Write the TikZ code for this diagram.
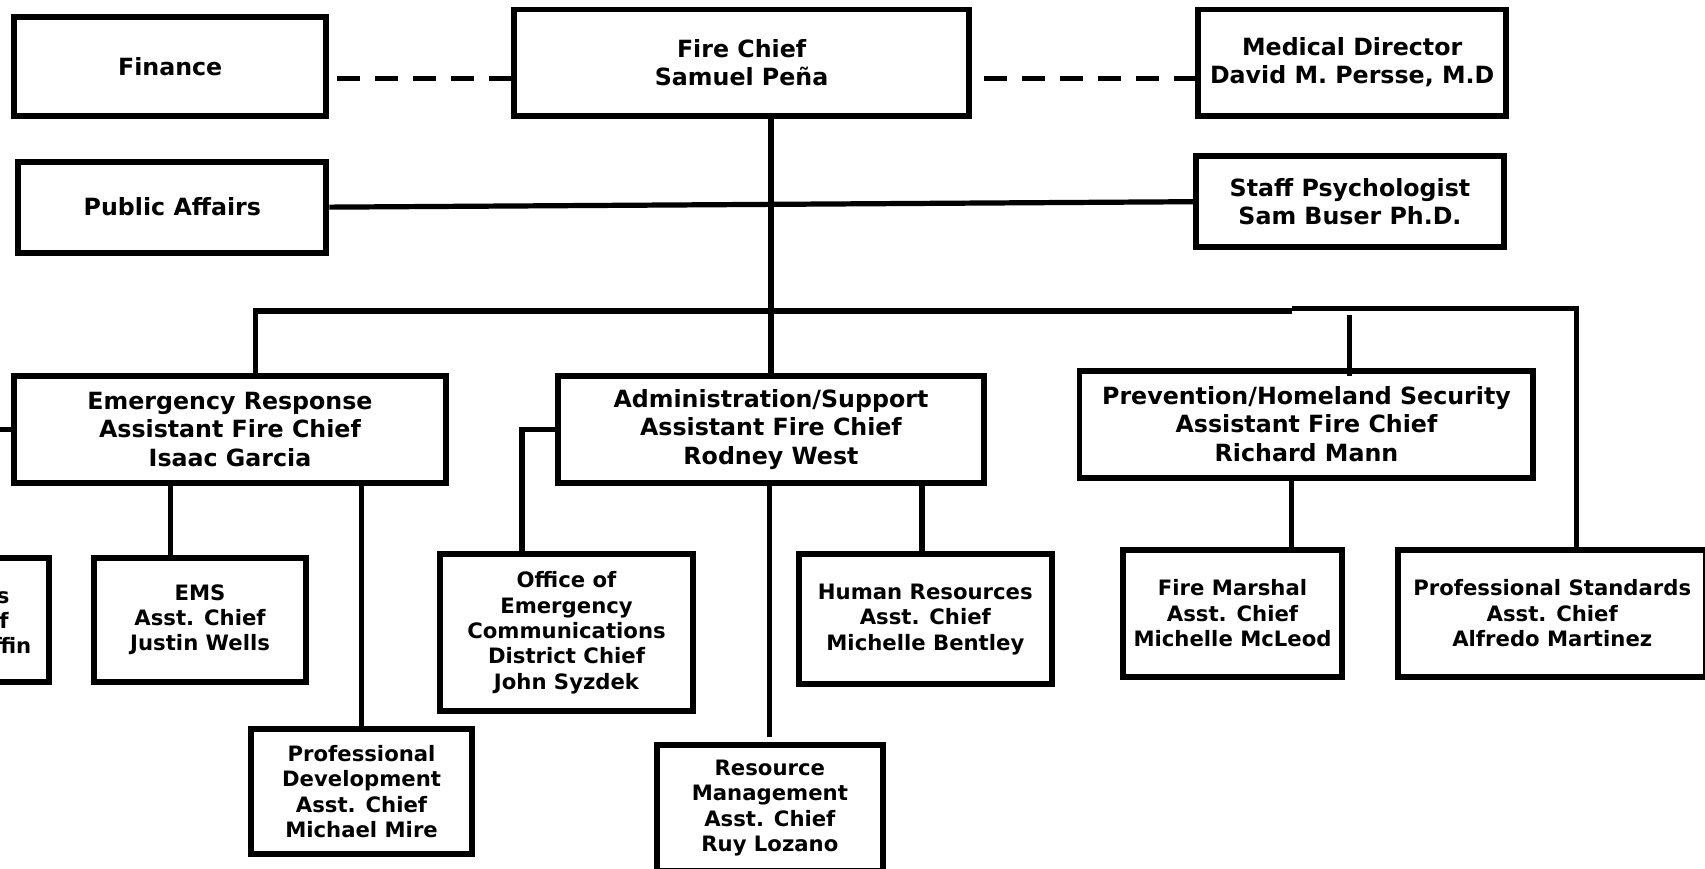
\documentclass[tikz,border=0pt]{standalone}
\usepackage{fontspec}
\setmainfont{DejaVu Sans}

\begin{document}
\begin{tikzpicture}[x = 1pt, y = -1pt, line join = miter,
	every node/.style = {text = black},
	chiefbox/.style = {draw, line width = 5.5pt, align = center, inner sep = 0pt,
		font = \fontsize{21.8}{26}\selectfont\bfseries},
	unitbox/.style = {draw, line width = 5.5pt, align = center, inner sep = 0pt,
		font = \fontsize{19.5}{23.3}\selectfont\bfseries},
	unittext/.style = {inner sep = 0pt, font = \fontsize{19.5}{23.3}\selectfont\bfseries},
	link/.style = {line width = 4.8pt},
	dashlink/.style = {line width = 5pt, dash pattern = on 21pt off 14pt}]

	% Page

	\fill [white] (0, 0) rectangle (1568, 799);
	\clip (0, 0) rectangle (1568, 799);

	% Top row

	\node [chiefbox, minimum width = 287.5, minimum height = 90.5] (fin) at (156.5, 61) {Finance};
	\node [chiefbox, minimum width = 418.5, minimum height = 97.5] (chief) at (682, 57.5) {Fire Chief\\Samuel Peña};
	\node [chiefbox, minimum width = 283.5, minimum height = 97.5] (med) at (1243.5, 57.5) {Medical Director\\David M. Persse, M.D};
	\node [chiefbox, minimum width = 283.5, minimum height = 83.5] (pa) at (158.5, 190.5) {Public Affairs};
	\node [chiefbox, minimum width = 283.5, minimum height = 83.5] (sp) at (1241.5, 185.5) {Staff Psychologist\\Sam Buser Ph.D.};

	% Assistant fire chiefs

	\node [chiefbox, minimum width = 397.5, minimum height = 98.5] (emr) at (211.5, 395) {Emergency Response\\Assistant Fire Chief\\Isaac Garcia};
	\node [chiefbox, minimum width = 392.5, minimum height = 98.5] (adm) at (709, 395) {Administration/Support\\Assistant Fire Chief\\Rodney West};
	\node [chiefbox, minimum width = 417.5, minimum height = 98.5] (prev) at (1201.5, 390) {Prevention/Homeland Security\\Assistant Fire Chief\\Richard Mann};

	% Divisions

	\node [unitbox, minimum width = 238.5, minimum height = 114.5] (ops) at (-74, 570) {};
	\node [unittext, anchor = base east] (opsA) at (9, 555) {s};
	\node [unittext, anchor = base east] (opsB) at (8, 578) {f};
	\node [unittext, anchor = base east] (opsC) at (29, 601) {ffin};
	\node [unitbox, minimum width = 194.5, minimum height = 114.5] (ems) at (184, 570) {EMS\\Asst. Chief\\Justin Wells};
	\node [unitbox, minimum width = 203.5, minimum height = 114.5] (pdv) at (332.5, 728) {Professional\\Development\\Asst. Chief\\Michael Mire};
	\node [unitbox, minimum width = 232.5, minimum height = 144.5] (oec) at (521, 582) {Office of\\Emergency\\Communications\\District Chief\\John Syzdek};
	\node [unitbox, minimum width = 232.5, minimum height = 119.5] (hr) at (851, 569.5) {Human Resources\\Asst. Chief\\Michelle Bentley};
	\node [unitbox, minimum width = 208.5, minimum height = 116.5] (rm) at (708, 743) {Resource\\Management\\Asst. Chief\\Ruy Lozano};
	\node [unitbox, minimum width = 201.5, minimum height = 116.5] (fm) at (1133.5, 564) {Fire Marshal\\Asst. Chief\\Michelle McLeod};
	\node [unitbox, minimum width = 283.5, minimum height = 116.5] (pst) at (1427.5, 564) {Professional Standards\\Asst. Chief\\Alfredo Martinez};

	% Staff links

	\coordinate (finDash) at (310, 72);
	\coordinate (medDash) at (905, 72);
	\draw [dashlink] (finDash) -- (finDash -| chief.west);
	\draw [dashlink] (medDash) -- (medDash -| med.west);
	\draw [link] (pa.east) -- (sp.west);
	\draw [link] (adm.north |- chief.south) -- (adm.north);

	% Branch bar

	\coordinate (barL) at (235, 286);
	\coordinate (barM) at (1188, 286);
	\coordinate (barR) at (1450, 284);
	\coordinate (pvTop) at (1241, 290);
	\draw [link] (barL |- emr.north) -- (barL) -- (barM);
	\draw [link] (barM |- barR) -- (barR) -- (barR |- pst.north);
	\draw [link] (pvTop) -- ([yshift = -8pt] pvTop |- prev.north);

	% Emergency response

	\draw [link] (emr.west) -- ++(-20, 0);
	\draw [link] ([xshift = -27pt] ems.north) -- ([xshift = -27pt] ems.north |- emr.south);
	\draw [link] (pdv.north) -- (pdv.north |- emr.south);

	% Administration

	\draw [link] (adm.west) -| ([xshift = -41pt] oec.north);
	\draw [link] ([yshift = 4pt] rm.north) -- (rm.north |- adm.south);
	\draw [link] ([xshift = -3pt] hr.north) -- ([xshift = -3pt] hr.north |- adm.south);

	% Prevention

	\draw [link] ([xshift = 54pt] fm.north) -- ([xshift = 54pt] fm.north |- prev.south);

\end{tikzpicture}
\end{document}
